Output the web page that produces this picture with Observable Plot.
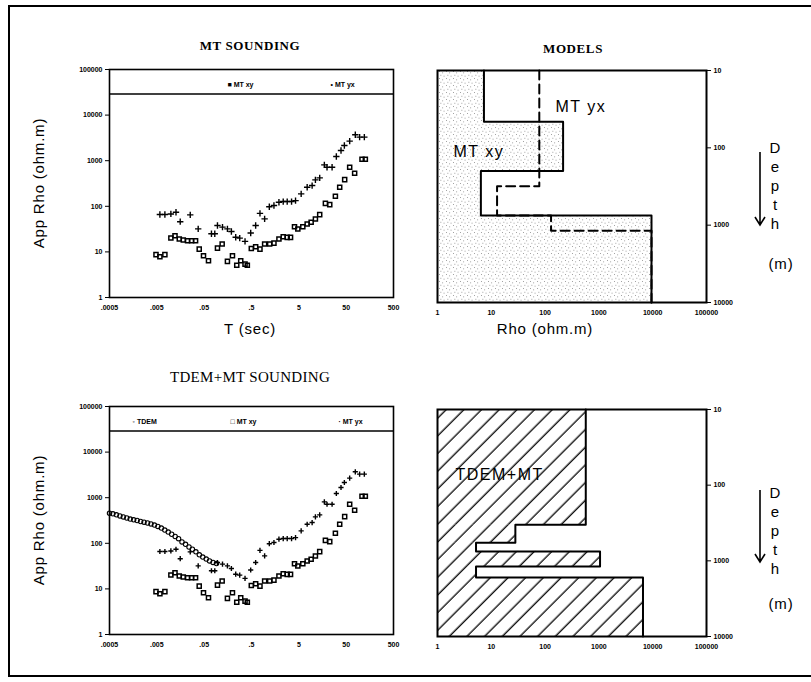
<!DOCTYPE html>
<html>
<head>
<meta charset="utf-8">
<script src="https://cdn.jsdelivr.net/npm/d3@7"></script>
<script src="https://cdn.jsdelivr.net/npm/@observablehq/plot@0.6"></script>
<style>
  html, body { margin: 0; padding: 0; background: #fff; }
  #page { position: relative; width: 811px; height: 682px; overflow: hidden; background: #fff;
          font-family: "Liberation Sans", Arial, sans-serif; color: #000; }
  #border { position: absolute; left: 8px; top: 5px; width: 803px; height: 672px; box-sizing: border-box;
            border-left: 2px solid #000; border-top: 2px solid #000; border-bottom: 2px solid #000; }
  .lbl { position: absolute; white-space: nowrap; transform: translate(-50%, -50%); line-height: 1; }
  .axis-title { font-family: "Liberation Sans", Arial, sans-serif; font-size: 15px; letter-spacing: 0.8px; }
  .title-bold { font-family: "Liberation Serif", serif; font-weight: bold; font-size: 13px; letter-spacing: 0.6px; }
  .title-norm { font-family: "Liberation Serif", serif; font-size: 15px; letter-spacing: 0.3px; }
  .depth { position: absolute; font-family: "Liberation Sans", Arial, sans-serif; font-size: 15px; line-height: 19px; text-align: center; width: 14px; }
  .plot { position: absolute; }
</style>
</head>
<body>
<div id="page"><div id="border"></div></div>
<script>
// ---------------- data ----------------
// MT apparent resistivity, xy polarisation (period s, ohm.m)
const mtXyPeriod = [0.0048, 0.0058, 0.0074, 0.0099, 0.0121, 0.0149, 0.0181, 0.0223, 0.0271, 0.0329,
  0.0393, 0.0484, 0.0617, 0.0955, 0.120, 0.155, 0.198, 0.244, 0.296, 0.365,
  0.408, 0.495, 0.612, 0.755, 0.947, 1.21, 1.49, 1.90, 2.34, 2.84,
  3.34, 4.05, 4.76, 6.07, 7.50, 9.10, 11.2, 13.8, 18.2, 22.5,
  29.6, 36.5, 46.5, 59.3, 75.5, 108, 127];
const mtXyRho = [8.7, 7.8, 8.7, 20.1, 22.6, 19.1, 18.2, 17.6, 17.6, 17.6,
  11.5, 8.2, 6.4, 12.1, 14.9, 6.2, 8.2, 5.1, 6.4, 5.4,
  5.1, 11.9, 13.0, 11.5, 14.9, 14.9, 15.6, 19.1, 21.5, 20.8,
  20.8, 35.7, 31.8, 35.7, 40.9, 44.5, 52.7, 65.6, 116, 109,
  166, 262, 385, 719, 531, 1079, 1079];

// MT apparent resistivity, yx polarisation
const mtYxPeriod = [0.0058, 0.0074, 0.0099, 0.0127, 0.0156, 0.0254, 0.0374, 0.0713, 0.0838, 0.0955,
  0.122, 0.155, 0.188, 0.232, 0.282, 0.365, 0.481, 0.612, 0.755, 0.947,
  1.19, 1.49, 1.90, 2.34, 2.84, 3.51, 4.26, 5.60, 7.50, 9.55,
  11.2, 13.8, 17.3, 19.7, 25.2, 31.0, 38.9, 45.8, 59.3, 78.0,
  96.2, 121];
const mtYxRho = [66, 66, 68, 74, 46, 65, 32, 25, 25, 38,
  35, 32, 28, 21, 20, 17, 26, 38, 70, 53,
  98, 104, 123, 127, 127, 127, 133, 187, 262, 285,
  379, 420, 810, 719, 719, 1235, 1673, 2153, 2683, 3698,
  3284, 3284];

// TDEM apparent resistivity (converted to equivalent period)
const tdemPeriod = [0.0005, 0.00059, 0.0007, 0.00083, 0.00098, 0.00116, 0.00137, 0.00162, 0.00192, 0.00227,
  0.00268, 0.00318, 0.00376, 0.00445, 0.00526, 0.00622, 0.00736, 0.0087, 0.0103, 0.0122,
  0.0144, 0.0170, 0.0202, 0.0239, 0.0282, 0.0334, 0.0395, 0.0467, 0.0553, 0.065,
  0.077, 0.091];
const tdemRho = [457, 442, 422, 398, 378, 359, 339, 327, 316, 301,
  290, 279, 266, 251, 234, 216, 195, 176, 158, 141,
  126, 107, 95, 83, 74, 65, 56, 50, 45, 41,
  38, 36];

// layered models: resistivity (ohm.m), layer top and bottom depth (m)
const xyModelRho = [7.3, 216, 6.4, 9500];
const xyModelTop = [10, 46, 200, 750];
const xyModelBottom = [46, 200, 750, 10000];

const yxModelRho = [78, 12.8, 129, 9500];
const yxModelTop = [10, 315, 750, 1180];
const yxModelBottom = [315, 750, 1180, 10000];

const jointModelRho = [570, 28, 5.2, 1050, 5.2, 6600];
const jointModelTop = [10, 334, 577, 751, 1186, 1660];
const jointModelBottom = [334, 577, 751, 1186, 1660, 10000];

// ticks
const periodTicks = [0.0005, 0.005, 0.05, 0.5, 5, 50, 500];
const periodTickLabels = [".0005", ".005", ".05", ".5", "5", "50", "500"];
const rhoTicks = [1, 10, 100, 1000, 10000, 100000];
const rhoTickLabels = ["1", "10", "100", "1000", "10000", "100000"];
const depthTicks = [10, 100, 1000, 10000];
const depthTickLabels = ["10", "100", "1000", "10000"];
const legendBandLevel = 29000;

// ---------------- helpers ----------------
const page = document.getElementById("page");
const pts = (xs, ys) => xs.map((x, i) => ({T: x, rho: ys[i]}));
const layers = (rho, top, bottom) => rho.map((r, i) => ({rho: r, top: top[i], bottom: bottom[i]}));
const steps = ls => ls.flatMap(l => [{rho: l.rho, depth: l.top}, {rho: l.rho, depth: l.bottom}]);
const fmt = (ticks, labels) => d => {
  const i = ticks.findIndex(t => Math.abs(Math.log10(t) - Math.log10(d)) < 1e-6);
  return i < 0 ? "" : labels[i];
};

function put(el, left, top) {
  el.classList.add("plot");
  el.style.left = left + "px";
  el.style.top = top + "px";
  page.appendChild(el);
}
function label(text, cx, cy, cls, rotate) {
  const d = document.createElement("div");
  d.className = "lbl " + cls;
  d.textContent = text;
  d.style.left = cx + "px";
  d.style.top = cy + "px";
  if (rotate) d.style.transform = "translate(-50%, -50%) rotate(-90deg)";
  page.appendChild(d);
}
function depthLabel(x, yFirst) {
  const d = document.createElement("div");
  d.className = "depth";
  d.innerHTML = "D<br>e<br>p<br>t<br>h";
  d.style.left = (x - 7) + "px";
  d.style.top = (yFirst - 9.5) + "px";
  page.appendChild(d);
}
function arrow(x, y1, y2) {
  const ns = "http://www.w3.org/2000/svg";
  const s = document.createElementNS(ns, "svg");
  s.setAttribute("width", 14); s.setAttribute("height", y2 - y1 + 4);
  s.style.position = "absolute"; s.style.left = (x - 7) + "px"; s.style.top = y1 + "px";
  const p = document.createElementNS(ns, "path");
  const h = y2 - y1;
  p.setAttribute("d", `M7,0 V${h} M2,${h - 8} L7,${h} L12,${h - 8}`);
  p.setAttribute("stroke", "#000"); p.setAttribute("stroke-width", 1.6); p.setAttribute("fill", "none");
  s.appendChild(p);
  page.appendChild(s);
}
function addPatterns(svg) {
  const defs = d3.select(svg).insert("defs", ":first-child");
  const st = defs.append("pattern").attr("id", "stipple").attr("patternUnits", "userSpaceOnUse")
    .attr("width", 7).attr("height", 7);
  [[1, 1], [4.2, 2.4], [2.4, 4.8], [5.6, 5.7]].forEach(([x, y]) =>
    st.append("rect").attr("x", x).attr("y", y).attr("width", 0.9).attr("height", 0.9).attr("fill", "#8c8c8c"));
  const h = defs.append("pattern").attr("id", "hatch").attr("patternUnits", "userSpaceOnUse")
    .attr("width", 12.5).attr("height", 12.5).attr("patternTransform", "rotate(45)");
  h.append("line").attr("x1", 6).attr("y1", -1).attr("x2", 6).attr("y2", 13.5)
    .attr("stroke", "#000").attr("stroke-width", 1.3);
}

const mtXy = pts(mtXyPeriod, mtXyRho);
const mtYx = pts(mtYxPeriod, mtYxRho);
const tdem = pts(tdemPeriod, tdemRho);

// ---------------- sounding panels ----------------
function sounding(withTdem, legend) {
  const marks = [Plot.ruleY([legendBandLevel], {stroke: "#000", strokeWidth: 1.6})];
  if (withTdem) {
    marks.push(Plot.dot(tdem, {x: "T", y: "rho", r: 2.2, stroke: "#000", strokeWidth: 1.1, fill: "none"}));
  }
  marks.push(Plot.dot(mtXy, {x: "T", y: "rho", symbol: "square", r: 2.3, stroke: "#000", strokeWidth: 1.5, fill: "none"}));
  marks.push(Plot.dot(mtYx, {x: "T", y: "rho", symbol: "plus", r: withTdem ? 1.8 : 2.2, stroke: "#000", strokeWidth: 1.4}));
  legend.forEach(([t, dx]) => marks.push(Plot.text([t], {
    text: d => d, frameAnchor: "top-left", dx, dy: 13, textAnchor: "start", fontSize: 7, fontWeight: "bold"
  })));
  // period tick labels along the bottom of the frame
  marks.push(Plot.text(periodTicks, {
    x: d => d, text: (d, i) => periodTickLabels[i], frameAnchor: "bottom", dy: 12,
    fontSize: 7, fontWeight: "bold"
  }));
  marks.push(Plot.frame({stroke: "#000", strokeWidth: 1.6}));
  return Plot.plot({
    width: 350, height: 265, marginLeft: 50, marginTop: 14, marginRight: 16, marginBottom: 23,
    style: {fontFamily: "'Liberation Sans', Arial, sans-serif", fontSize: "7px", fontWeight: "bold", background: "transparent", color: "#000"},
    x: {type: "log", domain: [0.0005, 500], axis: null},
    y: {type: "log", domain: [1, 100000], ticks: rhoTicks, tickFormat: fmt(rhoTicks, rhoTickLabels), tickSize: 4, tickPadding: 3, label: null},
    marks
  });
}

// ---------------- model panels ----------------
function model(fillLayers, fillId, solidLayers, dashedLayers, texts, h) {
  const marks = [
    Plot.rect(fillLayers, {x1: () => 1, x2: "rho", y1: "top", y2: "bottom", fill: `url(#${fillId})`}),
    Plot.line(steps(solidLayers), {x: "rho", y: "depth", stroke: "#000", strokeWidth: 2})
  ];
  if (dashedLayers) {
    marks.push(Plot.line(steps(dashedLayers), {x: "rho", y: "depth", stroke: "#000", strokeWidth: 2, strokeDasharray: "9,5"}));
  }
  marks.push(Plot.frame({stroke: "#000", strokeWidth: 2}));
  texts.forEach(([t, dx, dy]) => marks.push(Plot.text([t], {
    text: d => d, frameAnchor: "top-left", dx, dy, textAnchor: "start", fontSize: 16, fontWeight: "normal"
  })));
  const svg = Plot.plot({
    width: 330, height: h, marginLeft: 20, marginTop: 14, marginRight: 41, marginBottom: 24,
    style: {fontFamily: "'Liberation Sans', Arial, sans-serif", fontSize: "7px", fontWeight: "bold", background: "transparent", color: "#000"},
    x: {type: "log", domain: [1, 100000], ticks: rhoTicks, tickFormat: fmt(rhoTicks, rhoTickLabels), tickSize: 0, tickPadding: 8, label: null},
    y: {type: "log", domain: [10, 10000], reverse: true, axis: "right", ticks: depthTicks, tickFormat: fmt(depthTicks, depthTickLabels), tickSize: 4, tickPadding: 3, label: null},
    marks
  });
  addPatterns(svg);
  d3.select(svg).selectAll('g[aria-label="text"] text').style("letter-spacing", "1.5px");
  return svg;
}

// ---------------- assemble ----------------
put(sounding(false, [["\u25A0 MT xy", 118], ["\u2022 MT yx", 221]]), 59, 55);
put(sounding(true, [["\u25E6 TDEM", 23], ["\u25A1 MT xy", 121], ["\u00B7 MT yx", 229]]), 59, 392);

put(model(layers(xyModelRho, xyModelTop, xyModelBottom), "stipple",
  layers(xyModelRho, xyModelTop, xyModelBottom),
  layers(yxModelRho, yxModelTop, yxModelBottom),
  [["MT yx", 118, 30], ["MT xy", 16, 75]], 270), 417, 56);

put(model(layers(jointModelRho, jointModelTop, jointModelBottom), "hatch",
  layers(jointModelRho, jointModelTop, jointModelBottom), null,
  [["TDEM+MT", 18, 59]], 265), 417, 395);

// titles and axis titles
label("MT SOUNDING", 250, 45, "title-bold");
label("MODELS", 573, 48, "title-bold");
label("TDEM+MT SOUNDING", 250, 377, "title-norm");
label("App Rho (ohm.m)", 38, 183, "axis-title", true);
label("App Rho (ohm.m)", 38, 520, "axis-title", true);
label("T (sec)", 250, 328, "axis-title");
label("Rho (ohm.m)", 545, 328, "axis-title");

depthLabel(775, 147);
depthLabel(775, 492);
label("(m)", 781, 263, "axis-title");
label("(m)", 781, 603, "axis-title");
arrow(760, 152, 225);
arrow(760, 490, 562);
</script>
</body>
</html>
